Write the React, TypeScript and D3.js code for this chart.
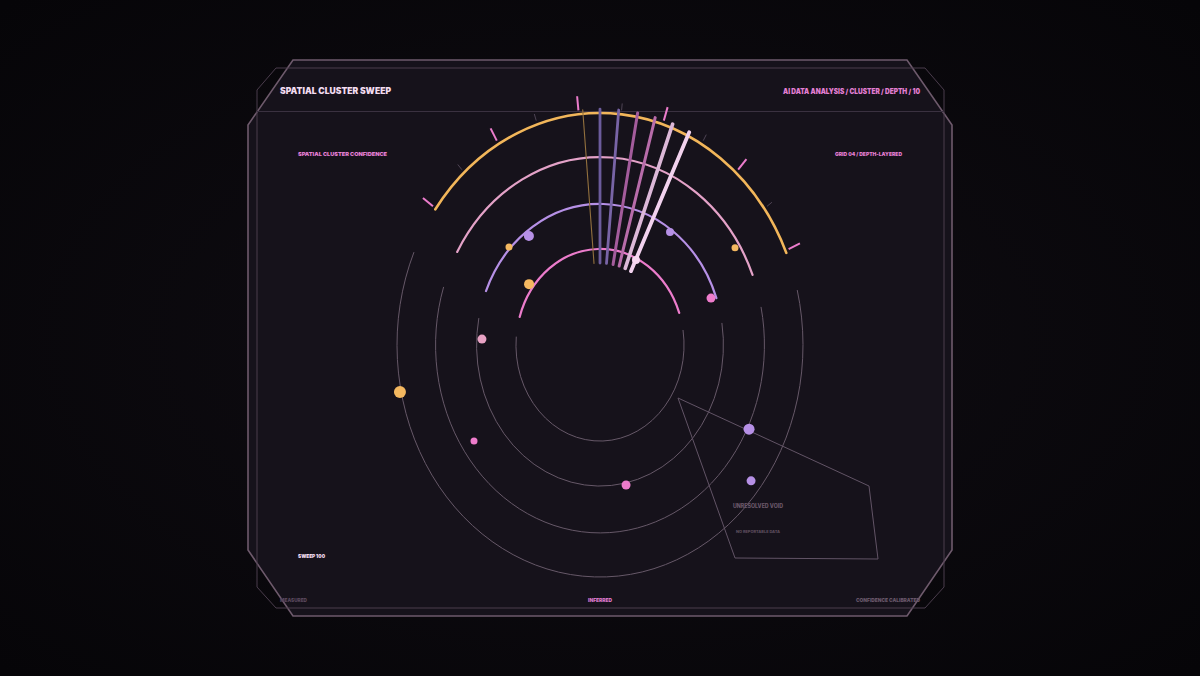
import React from "react";
import * as d3 from "d3";

// ---------- data ----------
const ringNames = ["core", "mid", "outer", "edge"];
const ringRadius = [0.414, 0.608, 0.81, 1.0]; // normalized depth radius
const ringColors = ["#ec7ccc", "#b690e6", "#e4a2c8", "#f2b65a"];
const ringWidths = [2.2, 2.2, 2.2, 2.6];
const arcStart = [-73, -67.5, -60.3, -54.2]; // confidence arc start (deg)
const arcEnd = [70.5, 70.6, 68.1, 66.6]; // confidence arc end (deg)
const grayStart = [81, 81, 78.3, 76.3]; // residual arc start (deg)
const grayEnd = [275, 281, 288, 293.6]; // residual arc end (deg)

const barAngles = [-4.8, 0, 5.2, 10.5, 15.5, 20.6, 25.6];
const barColors = ["#92703e", "#6c5c9c", "#7864a6", "#a45c9c", "#b86caa", "#dcb8d8", "#f2d2ee"];
const barWidths = [1.1, 2.8, 2.8, 3, 3, 3.6, 3.8];
const barInner = 0.353;
const barOuter = 1.017;

const majorTicks = [-54, -30, -6, 18, 42, 66];
const minorTicks = [-42, -18, 6, 30, 54];

const dotAngle = [-36.7, -46.7, 35.3, 57.8, -53.1, 69.7, -87.5, -101.6, -123.7, 168, 116.3, 128.2, 25.8];
const dotRadius = [0.586, 0.616, 0.597, 0.786, 0.437, 0.583, 0.582, 1.006, 0.746, 0.617, 0.819, 0.947, 0.407];
const dotSize = [5, 3.5, 4, 3.5, 5, 4.5, 4.5, 6, 3.5, 4.5, 5.5, 4.5, 4];
const dotColor = ["#b690e6", "#f4b860", "#b690e6", "#f4b860", "#f4b860", "#ee7ccc", "#e8a2c4", "#f4b860", "#ee7ccc", "#ee7ccc", "#b690e6", "#b690e6", "#f6d6f0"];

const voidPolygon: [number, number][] = [
  [678, 398],
  [869, 486],
  [878, 559],
  [735, 558],
];

// ---------- layout ----------
const W = 1200;
const H = 676;
const cx = 600;
const cy = 345;
const xFactor = 0.875;
const rScale = d3.scaleLinear().domain([0, 1]).range([0, 232]);
const toRad = (deg: number) => (deg * Math.PI) / 180;

function pt(deg: number, r: number): [number, number] {
  const R = rScale(r);
  const a = toRad(deg);
  return [cx + R * xFactor * Math.sin(a), cy - R * Math.cos(a)];
}

function arcPath(r: number, a0: number, a1: number) {
  const R = rScale(r);
  const p0 = pt(a0, r);
  const p1 = pt(a1, r);
  const large = a1 - a0 > 180 ? 1 : 0;
  return `M${p0[0]},${p0[1]} A${R * xFactor},${R} 0 ${large} 1 ${p1[0]},${p1[1]}`;
}

const outerFrame: [number, number][] = [
  [293, 60], [907, 60], [952, 125], [952, 550], [907, 616], [293, 616], [248, 550], [248, 125],
];
const innerFrame: [number, number][] = [
  [276, 68], [925, 68], [944, 90], [944, 587], [925, 608], [276, 608], [257, 587], [257, 90],
];

const line = d3.line();

export default function App() {
  const font = "Inter, 'DejaVu Sans', sans-serif";
  return (
    <svg width={W} height={H} style={{ position: "absolute", left: 0, top: 0, display: "block" }}>
      <defs>
        <radialGradient id="bg" cx="50%" cy="50%" r="70%">
          <stop offset="0%" stopColor="#100d13" />
          <stop offset="100%" stopColor="#060508" />
        </radialGradient>
      </defs>
      <rect x={0} y={0} width={W} height={H} fill="url(#bg)" />
      <path d={line(outerFrame) + "Z"} fill="#16121b" stroke="#6e5a6c" strokeWidth={1.6} />
      <path d={line(innerFrame) + "Z"} fill="none" stroke="#4a3c4c" strokeWidth={1} />
      <line x1={257} x2={944} y1={111.5} y2={111.5} stroke="#3a3140" strokeWidth={1} />

      {/* residual gray rings */}
      {ringRadius.map((r, i) => (
        <path key={"g" + ringNames[i]} d={arcPath(r, grayStart[i], grayEnd[i])} fill="none" stroke="#665868" strokeWidth={1} />
      ))}

      {/* void polygon */}
      <path d={line(voidPolygon) + "Z"} fill="none" stroke="#625466" strokeWidth={1} />
      <text x={758} y={508} textAnchor="middle" fill="#6a586a" fontFamily={font} fontWeight={800} fontSize={5.6} textLength={50} lengthAdjust="spacingAndGlyphs">
        UNRESOLVED VOID
      </text>
      <text x={758} y={532.5} textAnchor="middle" fill="#5e4e5e" fontFamily={font} fontWeight={800} fontSize={3.6} textLength={44} lengthAdjust="spacingAndGlyphs">
        NO REPORTABLE DATA
      </text>

      {/* ticks */}
      {minorTicks.map((a) => {
        const p0 = pt(a, 1.017);
        const p1 = pt(a, 1.047);
        return <line key={"mi" + a} x1={p0[0]} y1={p0[1]} x2={p1[0]} y2={p1[1]} stroke="#4e4454" strokeWidth={1} />;
      })}
      {majorTicks.map((a) => {
        const p0 = pt(a, 1.017);
        const p1 = pt(a, 1.078);
        return <line key={"ma" + a} x1={p0[0]} y1={p0[1]} x2={p1[0]} y2={p1[1]} stroke="#ec7ccc" strokeWidth={2} />;
      })}

      {/* confidence arcs */}
      {ringRadius.map((r, i) => (
        <path key={"c" + ringNames[i]} d={arcPath(r, arcStart[i], arcEnd[i])} fill="none" stroke={ringColors[i]} strokeWidth={ringWidths[i]} strokeLinecap="round" />
      ))}

      {/* sweep bars */}
      {barAngles.map((a, i) => {
        const p0 = pt(a, barInner);
        const p1 = pt(a, barOuter);
        return <line key={"b" + i} x1={p0[0]} y1={p0[1]} x2={p1[0]} y2={p1[1]} stroke={barColors[i]} strokeWidth={barWidths[i]} strokeLinecap="round" />;
      })}

      {/* dots */}
      {dotAngle.map((a, i) => {
        const p = pt(a, dotRadius[i]);
        return <circle key={"d" + i} cx={p[0]} cy={p[1]} r={dotSize[i]} fill={dotColor[i]} />;
      })}

      {/* texts */}
      <text x={280} y={94} fill="#f2dcf0" fontFamily={font} fontWeight={900} fontSize={8.6} textLength={111} lengthAdjust="spacingAndGlyphs">
        SPATIAL CLUSTER SWEEP
      </text>
      <text x={920} y={93.5} textAnchor="end" fill="#e27ed2" fontFamily={font} fontWeight={900} fontSize={7.2} textLength={137} lengthAdjust="spacingAndGlyphs">
        AI DATA ANALYSIS / CLUSTER / DEPTH / 10
      </text>
      <text x={298} y={156} fill="#e27ed2" fontFamily={font} fontWeight={900} fontSize={5.4} textLength={89} lengthAdjust="spacingAndGlyphs">
        SPATIAL CLUSTER CONFIDENCE
      </text>
      <text x={902} y={156} textAnchor="end" fill="#e27ed2" fontFamily={font} fontWeight={900} fontSize={5.2} textLength={67} lengthAdjust="spacingAndGlyphs">
        GRID 04 / DEPTH-LAYERED
      </text>
      <text x={298} y={558} fill="#f2dcf0" fontFamily={font} fontWeight={900} fontSize={5.4} textLength={27} lengthAdjust="spacingAndGlyphs">
        SWEEP 100
      </text>
      <text x={280} y={602} fill="#56465a" fontFamily={font} fontWeight={900} fontSize={5.4} textLength={27} lengthAdjust="spacingAndGlyphs">
        MEASURED
      </text>
      <text x={600} y={602} textAnchor="middle" fill="#d676c6" fontFamily={font} fontWeight={900} fontSize={5.4} textLength={24} lengthAdjust="spacingAndGlyphs">
        INFERRED
      </text>
      <text x={920} y={602} textAnchor="end" fill="#665668" fontFamily={font} fontWeight={900} fontSize={5.4} textLength={64} lengthAdjust="spacingAndGlyphs">
        CONFIDENCE CALIBRATED
      </text>
    </svg>
  );
}
